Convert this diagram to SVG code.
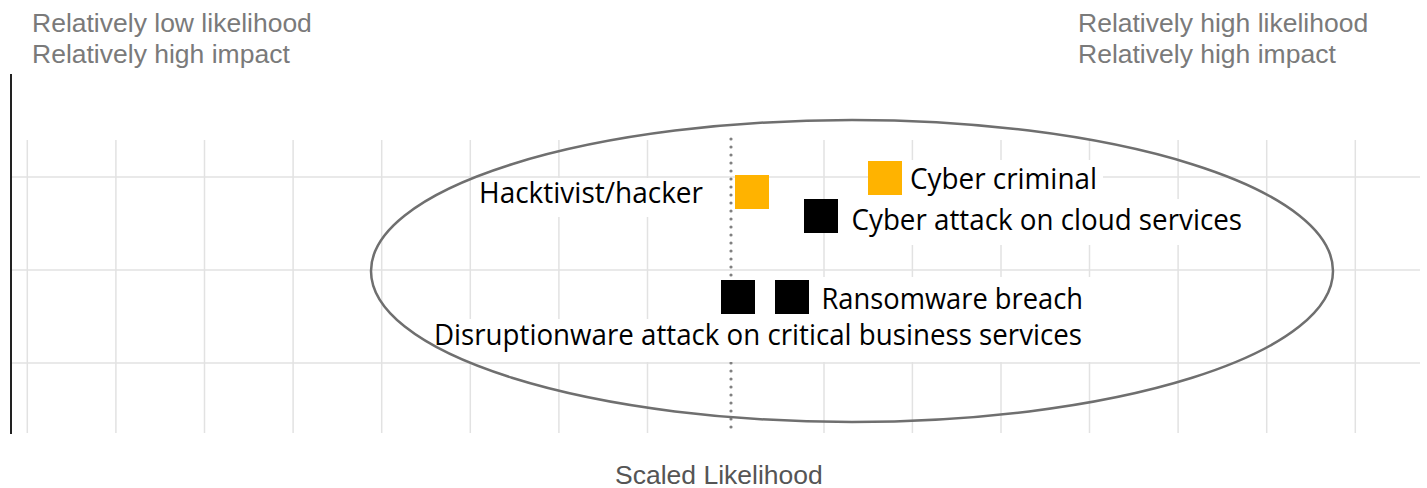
<svg xmlns="http://www.w3.org/2000/svg" width="1427" height="488" viewBox="0 0 1427 488">
  <style>
    .grid line { stroke: #e2e2e2; stroke-width: 1.5; }
    .corner { font-family: "Liberation Sans", Arial, sans-serif; font-size: 26.5px; fill: #7a7a7a; }
    .axis-title { font-family: "Liberation Sans", Arial, sans-serif; font-size: 26.5px; fill: #555555; }
    .label { font-family: "Open Sans", "Noto Sans", sans-serif; font-size: 28.5px; fill: #000000; }
    .bg { fill: #ffffff; }
    .orange { fill: #ffb300; }
    .black { fill: #000000; }
  </style>

  <rect x="0" y="0" width="1427" height="488" fill="#ffffff"/>

  <!-- grid -->
  <g class="grid" id="grid">
    <line x1="11" y1="177" x2="1420" y2="177"/>
    <line x1="11" y1="270" x2="1420" y2="270"/>
    <line x1="11" y1="363" x2="1420" y2="363"/>
    <line x1="27.3" y1="140" x2="27.3" y2="433"/>
    <line x1="115.9" y1="140" x2="115.9" y2="433"/>
    <line x1="204.5" y1="140" x2="204.5" y2="433"/>
    <line x1="293.1" y1="140" x2="293.1" y2="433"/>
    <line x1="381.7" y1="140" x2="381.7" y2="433"/>
    <line x1="470.3" y1="140" x2="470.3" y2="433"/>
    <line x1="558.9" y1="140" x2="558.9" y2="433"/>
    <line x1="647.5" y1="140" x2="647.5" y2="433"/>
    <line x1="824" y1="140" x2="824" y2="433"/>
    <line x1="912.4" y1="140" x2="912.4" y2="433"/>
    <line x1="1001" y1="140" x2="1001" y2="433"/>
    <line x1="1089.5" y1="140" x2="1089.5" y2="433"/>
    <line x1="1178.1" y1="140" x2="1178.1" y2="433"/>
    <line x1="1266.7" y1="140" x2="1266.7" y2="433"/>
    <line x1="1355.3" y1="140" x2="1355.3" y2="433"/>
  </g>

  <!-- vertical axis -->
  <line id="y-axis" x1="11" y1="74" x2="11" y2="434" stroke="#222222" stroke-width="2"/>

  <!-- threshold dotted line -->
  <g id="connectors">
    <line x1="731" y1="139" x2="731" y2="432" stroke="#808080" stroke-width="3.2" stroke-linecap="round" stroke-dasharray="0 8"/>
  </g>

  <!-- label backgrounds -->
  <g id="label-backgrounds" class="bg">
    <rect x="471" y="178" width="240" height="39"/>
    <rect x="902" y="160" width="201" height="39"/>
    <rect x="843" y="199" width="407" height="46"/>
    <rect x="713" y="277" width="379" height="42"/>
    <rect x="426" y="319" width="666" height="43"/>
  </g>

  <!-- ellipse -->
  <ellipse id="cluster" cx="852" cy="271" rx="481" ry="151" fill="none" stroke="#6f6f6f" stroke-width="2.5"/>

  <!-- corner labels -->
  <g id="corner-top-left">
    <text class="corner" x="32" y="31.5">Relatively low likelihood</text>
    <text class="corner" x="32" y="62.5">Relatively high impact</text>
  </g>
  <g id="corner-top-right">
    <text class="corner" x="1078" y="31.5">Relatively high likelihood</text>
    <text class="corner" x="1078" y="62.5">Relatively high impact</text>
  </g>

  <!-- nodes -->
  <g id="node-hacktivist">
    <rect class="orange" x="735" y="175" width="34" height="34"/>
    <text class="label" x="479" y="202.5" textLength="224" lengthAdjust="spacingAndGlyphs">Hacktivist/hacker</text>
  </g>
  <g id="node-cyber-criminal">
    <rect class="orange" x="868" y="161" width="34" height="34"/>
    <text class="label" x="910" y="188.5" textLength="187" lengthAdjust="spacingAndGlyphs">Cyber criminal</text>
  </g>
  <g id="node-cloud-attack">
    <rect class="black" x="804" y="199" width="34" height="34"/>
    <text class="label" x="851.5" y="230" textLength="390.5" lengthAdjust="spacingAndGlyphs">Cyber attack on cloud services</text>
  </g>
  <g id="node-disruptionware">
    <rect class="black" x="721" y="280" width="34" height="34"/>
    <text class="label" x="434" y="345" textLength="648" lengthAdjust="spacingAndGlyphs">Disruptionware attack on critical business services</text>
  </g>
  <g id="node-ransomware">
    <rect class="black" x="775" y="280" width="34" height="34"/>
    <text class="label" x="821.5" y="308.5" textLength="261.5" lengthAdjust="spacingAndGlyphs">Ransomware breach</text>
  </g>

  <!-- axis title -->
  <text id="x-axis-title" class="axis-title" x="615" y="484">Scaled Likelihood</text>
</svg>
